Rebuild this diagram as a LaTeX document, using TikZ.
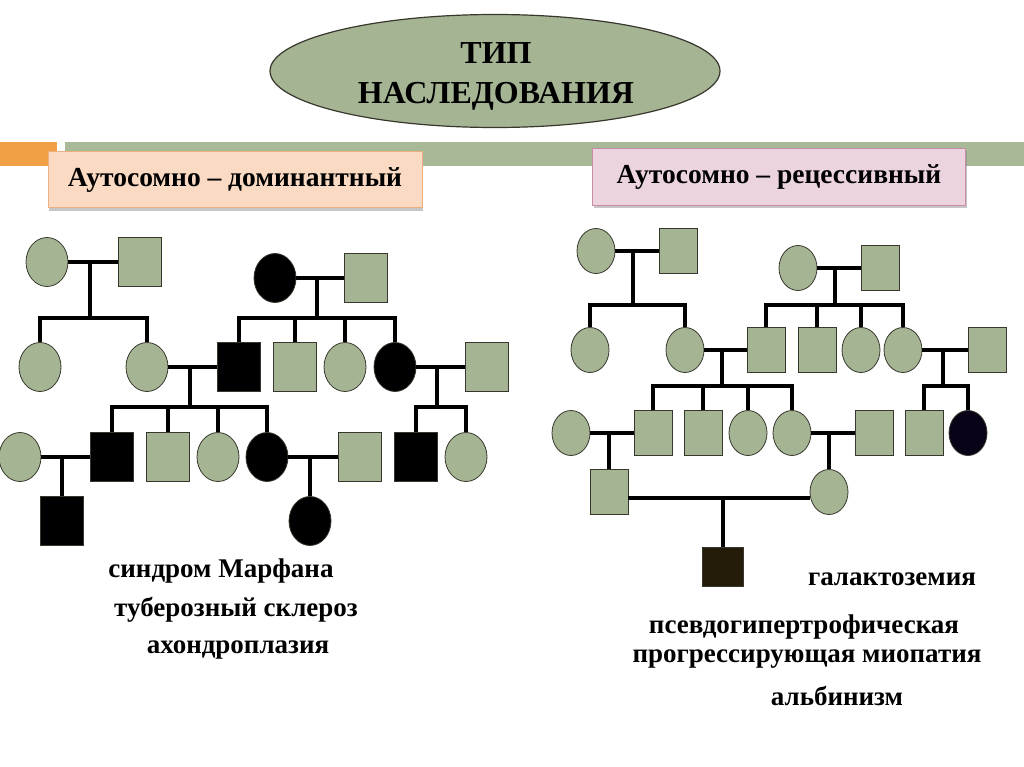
\documentclass[tikz,border=0pt]{standalone}
\usepackage{fontspec}
\setmainfont{Liberation Serif}
\usetikzlibrary{positioning, shapes.geometric, shadows}

\definecolor{pedgreen}{RGB}{165,181,148}
\definecolor{bargreen}{RGB}{168,185,152}
\definecolor{barorange}{RGB}{242,160,70}
\definecolor{peach}{RGB}{250,218,194}
\definecolor{peachline}{RGB}{236,176,128}
\definecolor{pink}{RGB}{235,212,224}
\definecolor{pinkline}{RGB}{200,140,165}
\definecolor{edge}{RGB}{55,55,45}
\definecolor{darknavy}{RGB}{10,2,22}
\definecolor{darkbrown}{RGB}{36,28,8}

\tikzset{
  fem/.style={ellipse, draw=edge, line width=0.8pt, fill=pedgreen, inner sep=0pt,
    minimum width=42pt, minimum height=49pt},
  mal/.style={rectangle, draw=edge, line width=0.8pt, fill=pedgreen, inner sep=0pt,
    minimum width=43pt, minimum height=49pt},
  sfem/.style={fem, minimum width=38pt, minimum height=45pt},
  smal/.style={mal, minimum width=38pt, minimum height=45pt},
  aff/.style={fill=black},
  link/.style={line width=4pt},
  sib/.style={line width=4pt, line cap=rect},
  typebox/.style={rectangle, draw, line width=1pt, inner sep=0pt,
    drop shadow={shadow xshift=1pt, shadow yshift=-3pt, opacity=0.45},
    font=\bfseries\fontsize{27.5}{31}\selectfont},
  disease/.style={anchor=base, inner sep=0pt, font=\bfseries\fontsize{27}{32}\selectfont}
}

\begin{document}
\begin{tikzpicture}[x=1pt, y=-1pt]
    \useasboundingbox (0,0) rectangle (1024,767);

    % title
    \node[ellipse, draw=edge, line width=1.2pt, fill=pedgreen,
        minimum width=450pt, minimum height=113pt] (title) at (495,71) {};
    \node[align=center, inner sep=0pt, font=\bfseries\fontsize{32}{40}\selectfont]
        (titletext) at (496,76) {ТИП\\НАСЛЕДОВАНИЯ};

    % bars
    \fill[barorange] (0,142) rectangle (57,166);
    \fill[bargreen] (65,142) rectangle (1024,166);

    % type boxes
    \node[typebox, draw=peachline, fill=peach, minimum width=374pt, minimum height=56pt]
        (dom) at (235,180) {Аутосомно – доминантный};
    \node[typebox, draw=pinkline, fill=pink, minimum width=373pt, minimum height=57pt]
        (rec) at (779,177) {Аутосомно – рецессивный};

    % dominant pedigree, generation I
    \node[fem] (dI1) at (47,262) {};
    \node[mal] (dI2) at (140,262) {};
    \node[fem, aff] (dI3) at (275,278) {};
    \node[mal] (dI4) at (366,278) {};
    % generation II
    \node[fem] (dII1) at (40,367) {};
    \node[fem] (dII2) at (147,367) {};
    \node[mal, aff] (dII3) at (239,367) {};
    \node[mal] (dII4) at (295,367) {};
    \node[fem] (dII5) at (345,367) {};
    \node[fem, aff] (dII6) at (395,367) {};
    \node[mal] (dII7) at (487,367) {};
    % generation III
    \node[fem] (dIII1) at (20,457) {};
    \node[mal, aff] (dIII2) at (112,457) {};
    \node[mal] (dIII3) at (168,457) {};
    \node[fem] (dIII4) at (218,457) {};
    \node[fem, aff] (dIII5) at (267,457) {};
    \node[mal] (dIII6) at (360,457) {};
    \node[mal, aff] (dIII7) at (416,457) {};
    \node[fem] (dIII8) at (466,457) {};
    % generation IV
    \node[mal, aff] (dIV1) at (62,521) {};
    \node[fem, aff] (dIV2) at (310,521) {};

    % dominant pedigree, lines
    \coordinate (du1) at (90,318);
    \coordinate (du2) at (317,318);
    \coordinate (du3) at (190,407);
    \coordinate (du4) at (437,407);
    \draw[link] (dI1) -- (dI2);
    \draw[link] (dI3) -- (dI4);
    \draw[link] (dII2) -- (dII3);
    \draw[link] (dII6) -- (dII7);
    \draw[link] (dIII1) -- (dIII2);
    \draw[link] (dIII5) -- (dIII6);
    \draw[link] (du1 |- dI1) -- (du1);
    \draw[link] (du2 |- dI3) -- (du2);
    \draw[link] (du3 |- dII2) -- (du3);
    \draw[link] (du4 |- dII6) -- (du4);
    \draw[sib] (dII1.north |- du1) -- (dII2.north |- du1);
    \draw[sib] (dII3.north |- du2) -- (dII6.north |- du2);
    \draw[sib] (dIII2.north |- du3) -- (dIII5.north |- du3);
    \draw[sib] (dIII7.north |- du4) -- (dIII8.north |- du4);
    \foreach \k in {dII1, dII2} \draw[link] (\k.north) -- (\k.north |- du1);
    \foreach \k in {dII3, dII4, dII5, dII6} \draw[link] (\k.north) -- (\k.north |- du2);
    \foreach \k in {dIII2, dIII3, dIII4, dIII5} \draw[link] (\k.north) -- (\k.north |- du3);
    \foreach \k in {dIII7, dIII8} \draw[link] (\k.north) -- (\k.north |- du4);
    \draw[link] (dIV1.north |- dIII1) -- (dIV1.north);
    \draw[link] (dIV2.north |- dIII5) -- (dIV2.north);

    % recessive pedigree, generation I
    \node[sfem] (rI1) at (596,251) {};
    \node[smal] (rI2) at (678,251) {};
    \node[sfem] (rI3) at (798,268) {};
    \node[smal] (rI4) at (880,268) {};
    % generation II
    \node[sfem] (rII1) at (590,350) {};
    \node[sfem] (rII2) at (685,350) {};
    \node[smal] (rII3) at (766,350) {};
    \node[smal] (rII4) at (817,350) {};
    \node[sfem] (rII5) at (861,350) {};
    \node[sfem] (rII6) at (903,350) {};
    \node[smal] (rII7) at (987,350) {};
    % generation III
    \node[sfem] (rIII1) at (571,433) {};
    \node[smal] (rIII2) at (653,433) {};
    \node[smal] (rIII3) at (703,433) {};
    \node[sfem] (rIII4) at (748,433) {};
    \node[sfem] (rIII5) at (792,433) {};
    \node[smal] (rIII6) at (874,433) {};
    \node[smal] (rIII7) at (924,433) {};
    \node[sfem, fill=darknavy] (rIII8) at (968,433) {};
    % generations IV and V
    \node[smal] (rIV1) at (609,492) {};
    \node[sfem] (rIV2) at (829,492) {};
    \node[smal, fill=darkbrown, minimum width=41pt, minimum height=39pt] (rV1) at (723,567) {};

    % recessive pedigree, lines
    \coordinate (ru1) at (633,305);
    \coordinate (ru2) at (835,305);
    \coordinate (ru3) at (722,386);
    \coordinate (ru4) at (943,386);
    \coordinate (ru5) at (723,498);
    \draw[link] (rI1) -- (rI2);
    \draw[link] (rI3) -- (rI4);
    \draw[link] (rII2) -- (rII3);
    \draw[link] (rII6) -- (rII7);
    \draw[link] (rIII1) -- (rIII2);
    \draw[link] (rIII5) -- (rIII6);
    \draw[link] (rIV1.east |- ru5) -- (rIV2.west |- ru5);
    \draw[link] (ru1 |- rI1) -- (ru1);
    \draw[link] (ru2 |- rI3) -- (ru2);
    \draw[link] (ru3 |- rII2) -- (ru3);
    \draw[link] (ru4 |- rII6) -- (ru4);
    \draw[sib] (rII1.north |- ru1) -- (rII2.north |- ru1);
    \draw[sib] (rII3.north |- ru2) -- (rII6.north |- ru2);
    \draw[sib] (rIII2.north |- ru3) -- (rIII5.north |- ru3);
    \draw[sib] (rIII7.north |- ru4) -- (rIII8.north |- ru4);
    \foreach \k in {rII1, rII2} \draw[link] (\k.north) -- (\k.north |- ru1);
    \foreach \k in {rII3, rII4, rII5, rII6} \draw[link] (\k.north) -- (\k.north |- ru2);
    \foreach \k in {rIII2, rIII3, rIII4, rIII5} \draw[link] (\k.north) -- (\k.north |- ru3);
    \foreach \k in {rIII7, rIII8} \draw[link] (\k.north) -- (\k.north |- ru4);
    \draw[link] (rIV1.north |- rIII1) -- (rIV1.north);
    \draw[link] (rIV2.north |- rIII5) -- (rIV2.north);
    \draw[link] (rV1.north |- ru5) -- (rV1.north);

    % diseases
    \node[disease] (marfan) at (221,577) {синдром Марфана};
    \node[disease] (scler) at (236,616) {туберозный склероз};
    \node[disease] (achon) at (238,653) {ахондроплазия};
    \node[disease] (galact) at (892,585) {галактоземия};
    \node[disease] (pseudo) at (804,633) {псевдогипертрофическая};
    \node[disease] (myop) at (807,662) {прогрессирующая миопатия};
    \node[disease] (albin) at (837,705) {альбинизм};
\end{tikzpicture}
\end{document}
